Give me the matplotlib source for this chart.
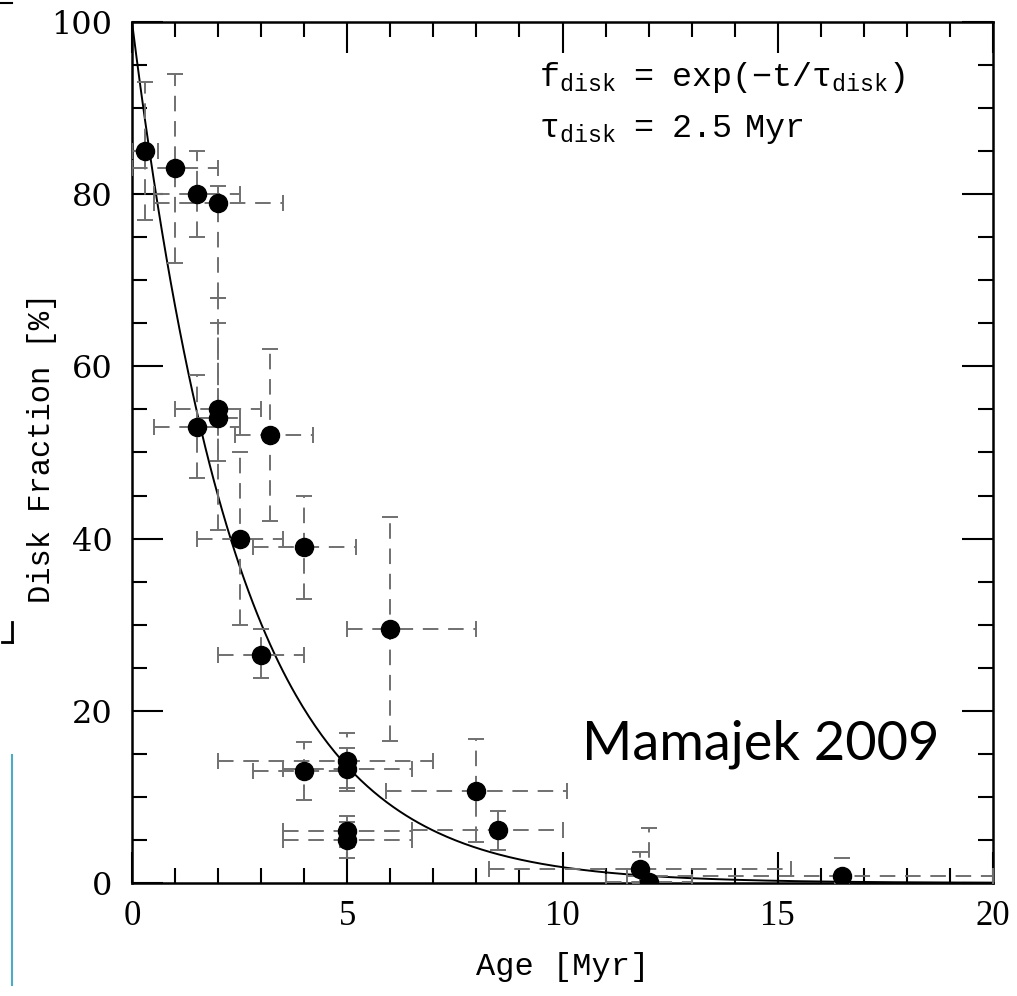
import numpy as np
import matplotlib
matplotlib.use('Agg')
import matplotlib.pyplot as plt
from matplotlib.lines import Line2D

# Disk fraction vs age
ages = [0.3, 1.0, 1.5, 2.0, 2.0, 2.0, 1.5, 3.2, 2.5, 4.0, 6.0,
        3.0, 4.0, 5.0, 5.0, 5.0, 5.0, 8.0, 8.5, 11.8, 12.0, 16.5]
disk_frac = [85, 83, 80, 79, 55, 54, 53, 52, 40, 39, 29.5,
             26.5, 13, 14.2, 13.2, 6.0, 5.0, 10.7, 6.1, 1.6, 0.1, 0.8]
age_err_lo = [0.3, 1.0, 1.0, 1.5, 1.0, 0.5, 1.0, 0.8, 1.0, 1.2, 1.0,
              1.0, 1.2, 3.0, 1.5, 1.5, 1.5, 2.1, 2.0, 3.5, 1.0, 5.0]
age_err_hi = [0.3, 1.0, 1.0, 1.5, 1.0, 0.5, 1.0, 1.0, 1.0, 1.2, 2.0,
              1.0, 1.0, 2.0, 1.5, 1.5, 1.5, 2.1, 1.5, 3.5, 1.0, 3.5]
frac_err_lo = [8, 11, 5, 11, 6, 13, 6, 10, 10, 6, 13,
               2.7, 3.4, 3.2, 2.5, 1.8, 2.1, 6, 2.3, 1.6, 0.1, 0.8]
frac_err_hi = [8, 11, 5, 2, 13, 11, 6, 10, 10, 6, 13,
               3.0, 3.4, 3.2, 2.5, 1.8, 2.1, 6, 2.3, 2.0, 6.3, 2.1]

tau_disk = 2.5

fig = plt.figure(figsize=(10.17, 9.96), dpi=100)
ax = fig.add_axes([0.1298, 0.1135, 0.8466, 0.8644])

# error bars: dashed grey lines with short solid caps
eb = ax.errorbar(ages, disk_frac,
                 xerr=[age_err_lo, age_err_hi], yerr=[frac_err_lo, frac_err_hi],
                 fmt='o', color='black', markersize=13, ecolor='#707070',
                 elinewidth=1.4, capsize=6, capthick=1.4, zorder=3)
for coll in eb[2]:
    coll.set_linestyle((0, (8, 5)))

# exponential decay model
t = np.linspace(0, 20, 400)
ax.plot(t, 100 * np.exp(-t / tau_disk), color='black', lw=1.4, zorder=2)

ax.set_xlim(0, 20)
ax.set_ylim(0, 100)
ax.set_xticks([0, 5, 10, 15, 20])
ax.set_xticks(np.arange(0, 21, 1), minor=True)
ax.set_yticks([0, 20, 40, 60, 80, 100])
ax.set_yticks(np.arange(0, 101, 5), minor=True)
ax.tick_params(which='both', direction='in', top=True, right=True, width=1.5)
ax.tick_params(which='major', length=22)
ax.tick_params(which='minor', length=11)
ax.tick_params(axis='x', which='major', pad=12, labelsize=25)
ax.tick_params(axis='y', which='major', pad=14, labelsize=23)
for lab in ax.get_xticklabels():
    lab.set_family('Liberation Serif')
for lab in ax.get_yticklabels():
    lab.set_family('DejaVu Serif')
for sp in ax.spines.values():
    sp.set_linewidth(1.8)

ax.set_xlabel('Age [Myr]', family='Liberation Mono', fontsize=23, labelpad=14)
ax.set_ylabel('Disk Fraction [%]', family='Liberation Mono', fontsize=22)
ax.yaxis.set_label_coords(-0.087, 0.505)

plt.rcParams['mathtext.fontset'] = 'custom'
plt.rcParams['mathtext.rm'] = 'Liberation Mono'
plt.rcParams['mathtext.it'] = 'Liberation Mono:italic'
ax.text(9.45, 92.6, r'$\mathrm{f_{disk}\ \ =\ \ exp(-t/\tau_{disk})}$',
        fontsize=24, color='black')
ax.text(9.45, 86.6, r'$\mathrm{\tau_{disk}\ \ =\ \ 2.5\ \ Myr}$',
        fontsize=24, color='black')

ax.text(10.45, 14.3, 'Mamajek 2009', family='Lato', fontsize=39, color='black')

# leftover slide decorations at the left edge
fig.add_artist(Line2D([12 / 1017, 12 / 1017], [1 - 755 / 996, 1 - 985 / 996],
                      color='#4bacc6', lw=1.5))
fig.add_artist(Line2D([12 / 1017, 12 / 1017], [1 - 622 / 996, 1 - 642 / 996],
                      color='black', lw=2))
fig.add_artist(Line2D([2 / 1017, 12 / 1017], [1 - 642 / 996, 1 - 642 / 996],
                      color='black', lw=2))
fig.add_artist(Line2D([0, 12 / 1017], [1 - 3 / 996, 1 - 3 / 996],
                      color='black', lw=1.5))

fig.savefig('out.png', dpi=100)
